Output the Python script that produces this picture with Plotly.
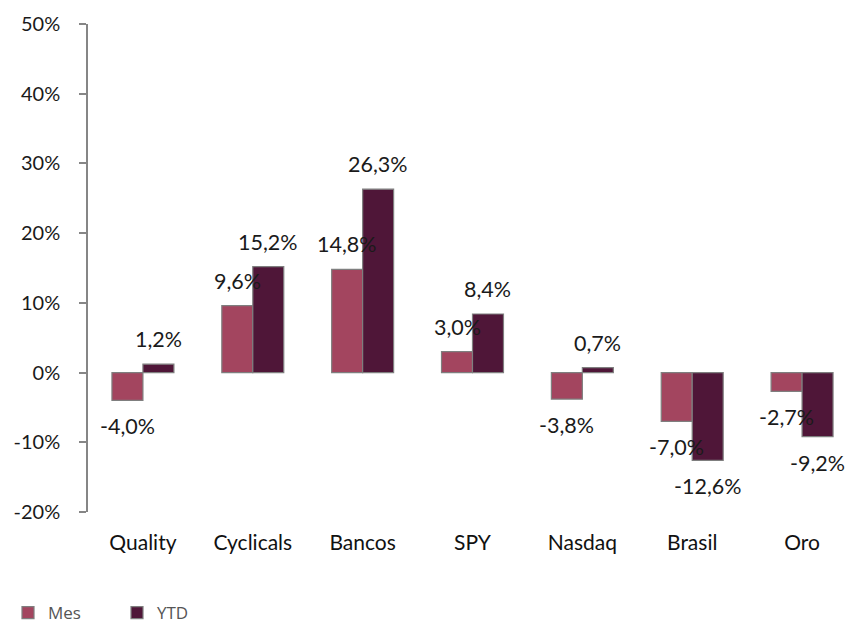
import plotly.graph_objects as go

categories = ["Quality", "Cyclicals", "Bancos", "SPY", "Nasdaq", "Brasil", "Oro"]
mes = [-4.0, 9.6, 14.8, 3.0, -3.8, -7.0, -2.7]
ytd = [1.2, 15.2, 26.3, 8.4, 0.7, -12.6, -9.2]
y_ticks = [-20, -10, 0, 10, 20, 30, 40, 50]

MES_COLOR = "#A3455F"
YTD_COLOR = "#4F1638"
AXIS_COLOR = "#868686"
FONT = "Lato"

# the page body adds an 8px offset, so the figure is sized to fit the window
W, H = 850, 621
ML, MR, MT, MB = 80, 1, 16, 117
plot_w = W - ML - MR
plot_h = H - MT - MB
bargap = 0.436
bar_w_px = (1 - bargap) / 2 * plot_w / len(categories)


def fmt(v):
    return f"{v:.1f}".replace(".", ",") + "%"


fig = go.Figure()
fig.add_trace(go.Bar(x=categories, y=mes, name="Mes",
                     marker=dict(color=MES_COLOR, line=dict(color="#7f7f7f", width=1.2))))
fig.add_trace(go.Bar(x=categories, y=ytd, name="YTD",
                     marker=dict(color=YTD_COLOR, line=dict(color="#7f7f7f", width=1.2))))

annotations = []
for series, shift in ((mes, -bar_w_px / 2), (ytd, bar_w_px / 2)):
    for c, v in zip(categories, series):
        annotations.append(dict(
            x=c, y=v, xref="x", yref="y", text=fmt(v), showarrow=False,
            xshift=shift, yshift=25 if v >= 0 else -26,
            font=dict(family=FONT, size=21.5, color="#1a1a1a")))

n = len(categories)
fig.update_layout(
    width=W, height=H,
    margin=dict(l=ML, r=MR, t=MT, b=MB, autoexpand=False),
    paper_bgcolor="white", plot_bgcolor="white",
    barmode="group", bargap=bargap, bargroupgap=0,
    annotations=annotations,
    showlegend=True,
    legend=dict(orientation="h", xref="container", x=-7 / W, xanchor="left",
                y=-101 / plot_h, yanchor="middle", entrywidth=64,
                font=dict(family="Open Sans", size=17, color="#555555")),
    xaxis=dict(type="category", categoryarray=categories, range=[-0.5, n - 0.5],
               showline=False, ticks="", showgrid=False, zeroline=False,
               tickangle=0, automargin=False,
               tickfont=dict(family=FONT, size=21, color="#111111"),
               ticklabelstandoff=16),
    xaxis2=dict(overlaying="x", anchor="free", automargin=False,
                position=(0 - y_ticks[0]) / (y_ticks[-1] - y_ticks[0]),
                range=[-0.5, n - 0.5], showline=True, linecolor=AXIS_COLOR, linewidth=1.5,
                ticks="outside", ticklen=7, tickcolor=AXIS_COLOR, tickwidth=1.5,
                tickvals=[i + 0.5 for i in range(n)], showticklabels=False,
                showgrid=False, zeroline=False),
    yaxis=dict(range=[y_ticks[0], y_ticks[-1]], tickvals=y_ticks, automargin=False,
               ticktext=[f"{t}%" for t in y_ticks],
               showline=True, linecolor=AXIS_COLOR, linewidth=1.5,
               ticks="outside", ticklen=7, tickcolor=AXIS_COLOR, tickwidth=1.5,
               showgrid=False, zeroline=False,
               tickfont=dict(family=FONT, size=20, color="#1a1a1a"),
               ticklabelstandoff=15),
)

fig.write_html("out.html")
